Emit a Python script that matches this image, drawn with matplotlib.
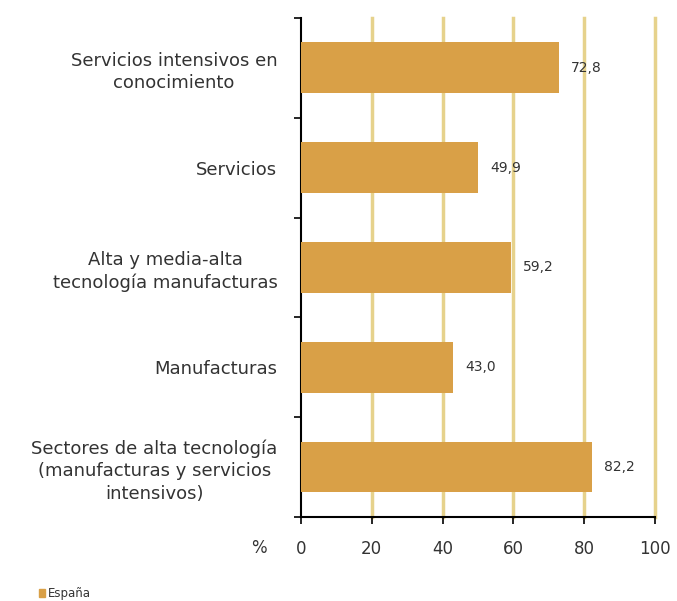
import matplotlib.pyplot as plt
import numpy as np

categories = ['Sectores de alta tecnología\n(manufacturas y servicios\nintensivos)',
              'Manufacturas',
              'Alta y media-alta\ntecnología manufacturas',
              'Servicios',
              'Servicios intensivos en\nconocimiento']
values = [82.2, 43.0, 59.2, 49.9, 72.8]
value_labels = ['82,2', '43,0', '59,2', '49,9', '72,8']
xticks = [0, 20, 40, 60, 80, 100]

bar_color = '#D9A047'
grid_color = '#E6D28C'

plt.rcParams['font.family'] = ['DejaVu Sans']

fig = plt.figure(figsize=(6.77, 6.01), dpi=100)
ax = fig.add_axes([0.4446, 0.140, 0.5229, 0.830])

y = np.arange(len(categories))
ax.barh(y, values, height=0.51, color=bar_color, zorder=3)
for yi, v, lab in zip(y, values, value_labels):
    ax.text(v + 3.5, yi, lab, va='center', ha='left', fontsize=10, color='#333333', zorder=4)

ax.set_xlim(0, 100)
ax.set_ylim(-0.5, len(categories) - 0.5)
for xv in xticks[1:]:
    ax.axvline(xv, color=grid_color, lw=2.5, zorder=1, clip_on=False)

ax.set_xticks(xticks)
ax.set_xticklabels([str(t) for t in xticks], fontsize=12, color='#333333')
ax.tick_params(axis='x', direction='out', length=5, width=1.2, pad=12)

ax.set_yticks(y)
ax.set_yticklabels(categories, fontsize=13, color='#333333', multialignment='center',
                   linespacing=1.3)
ax.tick_params(axis='y', which='major', length=0, pad=17)
ax.set_yticks(np.arange(-0.5, len(categories)), minor=True)
ax.tick_params(axis='y', which='minor', direction='out', length=5, width=1.2)

for s in ['top', 'right']:
    ax.spines[s].set_visible(False)
for s in ['left', 'bottom']:
    ax.spines[s].set_linewidth(1.5)

fig.text(0.383, 0.088, '%', fontsize=12, color='#333333', ha='center', va='center')

# legend
fig.patches.append(plt.Rectangle((0.057, 0.006), 0.010, 0.014, transform=fig.transFigure,
                                 color=bar_color, figure=fig))
fig.text(0.070, 0.013, 'España', fontsize=8.5, color='#333333', va='center')

plt.savefig('out.png')
